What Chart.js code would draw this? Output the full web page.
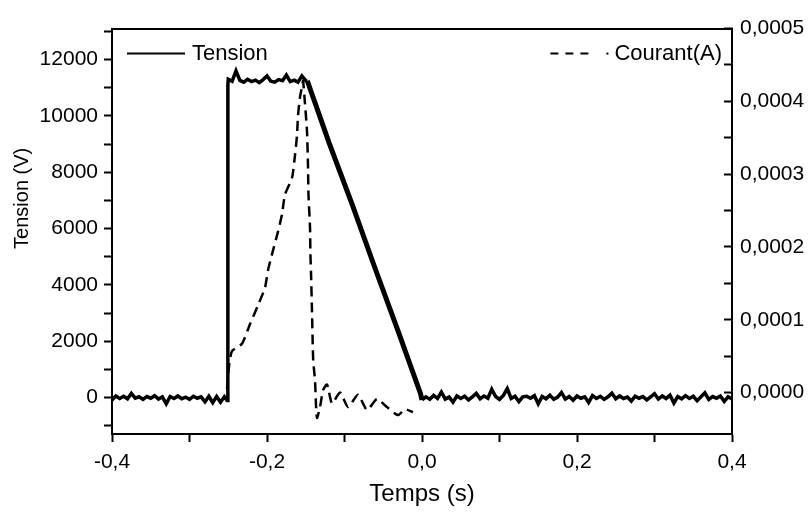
<!DOCTYPE html>
<html>
<head>
<meta charset="utf-8">
<script src="https://cdn.jsdelivr.net/npm/chart.js@4.4.1/dist/chart.umd.min.js"></script>
<style>
  body { margin: 0; background: #fff; }
  #wrap { width: 812px; height: 512px; }
</style>
</head>
<body>
<div id="wrap"><canvas id="chart"></canvas></div>
<script>
// Tension (V) vs time (s)
const tensionTime = [
  -0.400, -0.395, -0.390, -0.385, -0.380, -0.375, -0.370, -0.365, -0.360, -0.355,
  -0.350, -0.345, -0.340, -0.335, -0.330, -0.325, -0.320, -0.315, -0.310, -0.305,
  -0.300, -0.295, -0.290, -0.285, -0.280, -0.275, -0.270, -0.265, -0.260, -0.255,
  -0.2515, -0.2505, -0.2500,
  -0.245, -0.240, -0.235, -0.230, -0.225, -0.220, -0.215, -0.210, -0.205, -0.200,
  -0.195, -0.190, -0.185, -0.180, -0.175, -0.170, -0.165, -0.160, -0.155, -0.150,
  -0.148, -0.120, -0.090, -0.060, -0.030, -0.002, 0.000,
  0.005, 0.010, 0.015, 0.020, 0.025, 0.030, 0.035, 0.040, 0.045, 0.050,
  0.055, 0.060, 0.065, 0.070, 0.075, 0.080, 0.085, 0.090, 0.095, 0.100,
  0.105, 0.110, 0.115, 0.120, 0.125, 0.130, 0.135, 0.140, 0.145, 0.150,
  0.155, 0.160, 0.165, 0.170, 0.175, 0.180, 0.185, 0.190, 0.195, 0.200,
  0.205, 0.210, 0.215, 0.220, 0.225, 0.230, 0.235, 0.240, 0.245, 0.250,
  0.255, 0.260, 0.265, 0.270, 0.275, 0.280, 0.285, 0.290, 0.295, 0.300,
  0.305, 0.310, 0.315, 0.320, 0.325, 0.330, 0.335, 0.340, 0.345, 0.350,
  0.355, 0.360, 0.365, 0.370, 0.375, 0.380, 0.385, 0.390, 0.395, 0.400
];
const tensionValues = [
  -80, 60, -30, 50, -40, 150, -20, 30, -60, 40,
  -20, 70, -50, 30, -220, 40, -30, 60, -40, 20,
  -60, 50, -20, 30, -150, 50, -180, 40, -160, 30,
  -100, 11100, 11300,
  11230, 11600, 11260, 11200, 11300, 11220, 11270, 11180, 11290, 11420,
  11230, 11200, 11290, 11250, 11450, 11220, 11270, 11200, 11420, 11250,
  11250, 9050, 6850, 4550, 2300, 150, -80,
  30, -60, 80, -30, 200, -50, 20, -160, 60, -30,
  50, -80, 30, 150, -40, 60, -20, 300, 40, -60,
  80, 320, -30, 50, -140, 30, 50, -20, 70, -220,
  40, -40, 90, -60, 20, 180, -50, 40, -90, 60,
  -20, 30, -170, 70, -30, 50, -60, 30, 160, -40,
  60, -30, 20, -120, 50, -20, 40, -80, 30, 140,
  -50, 60, -30, 90, -190, 40, -40, 70, -30, 50,
  -110, 30, 170, -60, 40, -20, 60, -130, 30, -50
];

// Courant (A) vs time (s)
const courantTime = [
  -0.2516, -0.2490, -0.2452, -0.2323, -0.2219, -0.2116, -0.2026, -0.1987, -0.1923, -0.1858,
  -0.1806, -0.1768, -0.1677, -0.1639, -0.1613, -0.1600, -0.1574, -0.1548, -0.1535, -0.1510,
  -0.1484, -0.1471, -0.1465, -0.1445, -0.1440, -0.1432, -0.1419, -0.1410, -0.1403, -0.1380,
  -0.1368, -0.1355, -0.1316, -0.1277, -0.1226, -0.1161, -0.1058, -0.0955, -0.0826, -0.0710,
  -0.0581, -0.0452, -0.0310, -0.0219, -0.0116
];
const courantValues = [
  0.000005, 0.000036, 0.000057, 0.000067, 0.000094, 0.000120, 0.000144, 0.000168, 0.000195, 0.000221,
  0.000245, 0.000272, 0.000295, 0.000326, 0.000353, 0.000380, 0.000406, 0.000420, 0.000428, 0.000397,
  0.000359, 0.000312, 0.000272, 0.000227, 0.000191, 0.000164, 0.000110, 0.000066, 0.000043, 0.000016,
  -0.000017, -0.000035, -0.000020, 0.000003, 0.000011, -0.000015, 0.000000, -0.000020, -0.000003, -0.000024,
  -0.000009, -0.000020, -0.000031, -0.000023, -0.000027
];

// left axis tick positions (labels on every other one)
const tensionTicks = [-1000, 0, 1000, 2000, 3000, 4000, 5000, 6000, 7000, 8000, 9000, 10000, 11000, 12000, 13000];

const tensionData = tensionTime.map((t, i) => ({ x: t, y: tensionValues[i] }));
const courantData = courantTime.map((t, i) => ({ x: t, y: courantValues[i] }));

const FONT = "'Liberation Sans', Arial, sans-serif";
Chart.defaults.font.family = FONT;
Chart.defaults.color = "#000";

const comma = (v, d) => (Math.abs(v) < 1e-12 ? 0 : v).toFixed(d).replace(".", ",");
const black = "#000";
const axisBorder = { display: true, color: black, width: 2 };

// legend inside the plot (one entry per top corner) + left axis title,
// which sits above the middle of the axis in the original
const insideLegend = {
  id: "insideLegend",
  afterDatasetsDraw(chart) {
    const { ctx, chartArea: a } = chart;
    const y = a.top + 25;
    ctx.save();
    ctx.font = "22px " + FONT;
    ctx.fillStyle = black;
    ctx.strokeStyle = black;
    ctx.textBaseline = "middle";
    ctx.lineWidth = 2;
    ctx.beginPath();
    ctx.moveTo(a.left + 15, y);
    ctx.lineTo(a.left + 73, y);
    ctx.stroke();
    ctx.textAlign = "left";
    ctx.fillText(chart.data.datasets[0].label, a.left + 80, y);

    const label = chart.data.datasets[1].label;
    ctx.textAlign = "right";
    ctx.fillText(label, a.right - 10, y);
    const tx = a.right - 10 - ctx.measureText(label).width;
    ctx.setLineDash([8, 7]);
    ctx.beginPath();
    ctx.moveTo(tx - 64, y);
    ctx.lineTo(tx - 20, y);
    ctx.stroke();
    ctx.setLineDash([]);
    ctx.fillRect(tx - 8, y - 1, 2, 2);

    ctx.font = "20px " + FONT;
    ctx.textAlign = "center";
    ctx.translate(22, (a.top + a.bottom) / 2 - 33);
    ctx.rotate(-Math.PI / 2);
    ctx.fillText(chart.options.scales.y.title.text, 0, 0);
    ctx.restore();
  }
};

new Chart(document.getElementById("chart"), {
  type: "line",
  data: {
    datasets: [
      {
        label: "Tension",
        data: tensionData,
        xAxisID: "x",
        yAxisID: "y",
        borderColor: black,
        borderWidth: 3.5,
        pointRadius: 0,
        tension: 0,
        segment: {
          borderWidth: (c) => (c.p0.parsed.x >= -0.149 && c.p1.parsed.x <= 0.0005 ? 5 : 3.5),
        },
      },
      {
        label: "Courant(A)",
        data: courantData,
        xAxisID: "x",
        yAxisID: "y1",
        borderColor: black,
        borderWidth: 2.5,
        borderDash: [10, 6],
        pointRadius: 0,
        tension: 0.2,
      },
    ],
  },
  options: {
    responsive: true,
    maintainAspectRatio: false,
    animation: false,
    layout: { padding: 0 },
    plugins: { legend: { display: false }, tooltip: { enabled: false } },
    scales: {
      x: {
        type: "linear",
        position: "bottom",
        min: -0.4,
        max: 0.4,
        afterFit: (s) => { s.height = 78; },
        ticks: {
          stepSize: 0.1,
          autoSkip: false,
          maxRotation: 0,
          padding: 8,
          font: { size: 21 },
          callback: (v) => (Math.round(v * 10) % 2 === 0 ? comma(v, 1) : ""),
        },
        grid: { drawOnChartArea: false, tickLength: 8, tickWidth: 2, tickColor: black },
        border: axisBorder,
        title: { display: true, text: "Temps (s)", font: { size: 24 }, padding: { top: 0, bottom: 3 } },
      },
      x2: {
        type: "linear",
        position: "top",
        min: 0,
        max: 1,
        afterFit: (s) => { s.height = 21; },
        ticks: { display: false },
        grid: { display: false },
        border: axisBorder,
      },
      y: {
        type: "linear",
        position: "left",
        min: -1290,
        max: 13100,
        afterFit: (s) => { s.width = 112; },
        afterBuildTicks: (s) => { s.ticks = tensionTicks.map((v) => ({ value: v })); },
        ticks: {
          autoSkip: false,
          padding: 6,
          font: { size: 21 },
          callback: (v) => (v % 2000 === 0 ? String(v) : ""),
        },
        grid: { drawOnChartArea: false, tickLength: 8, tickWidth: 2, tickColor: black },
        border: axisBorder,
        title: { display: false, text: "Tension (V)" },
      },
      y1: {
        type: "linear",
        position: "right",
        min: -0.000057,
        max: 0.0005,
        afterFit: (s) => { s.width = 80; },
        ticks: {
          stepSize: 0.00005,
          autoSkip: false,
          padding: 16,
          font: { size: 21 },
          callback: (v) => {
            const k = Math.round(v / 0.00005);
            return Math.abs(v - k * 0.00005) < 1e-9 && k % 2 === 0 ? comma(v, 4) : "";
          },
        },
        grid: {
          drawOnChartArea: false,
          tickLength: -8,
          tickWidth: 2,
          tickColor: (c) => {
            if (!c.tick) return black;
            const k = Math.round(c.tick.value / 0.00005);
            return Math.abs(c.tick.value - k * 0.00005) < 1e-9 ? black : "rgba(0,0,0,0)";
          },
        },
        border: axisBorder,
      },
    },
  },
  plugins: [insideLegend],
});
</script>
</body>
</html>
